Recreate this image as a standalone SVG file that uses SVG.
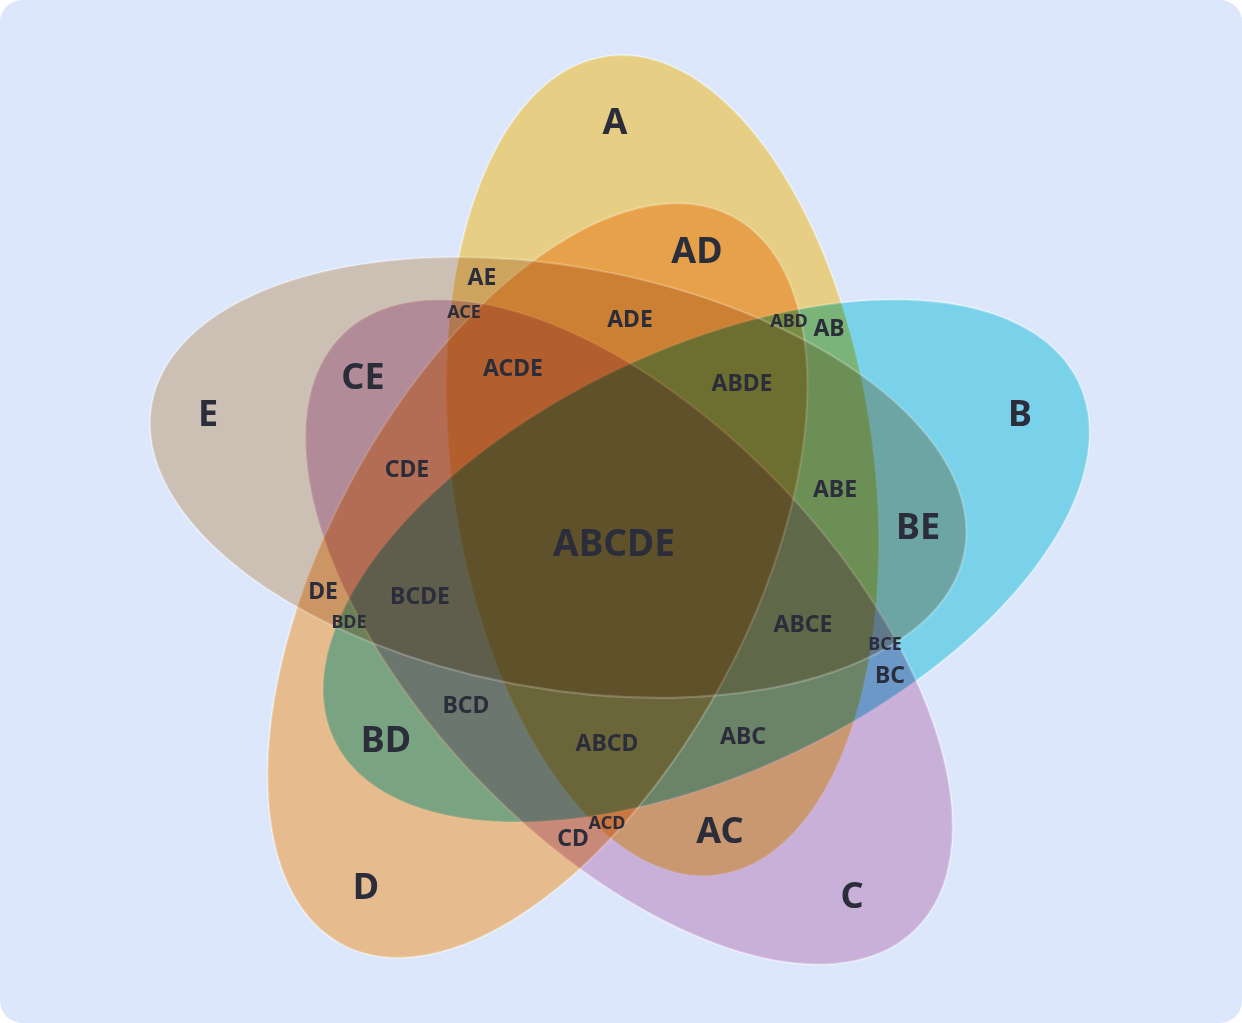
<svg xmlns="http://www.w3.org/2000/svg" width="1242" height="1023" viewBox="0 0 1242 1023">
<defs>
<style>
.under{fill:#e6f1ff;stroke:#e8f2ff;stroke-width:2}
.fill{mix-blend-mode:multiply;stroke:none}
.rim{fill:none;stroke:#ffffff;stroke-opacity:0.22;stroke-width:2.2}
text{font-family:"Noto Sans","Liberation Sans",sans-serif;font-weight:700;fill:#2b2d3a;text-anchor:middle}
.big{font-size:36px}
.all{font-size:37px}
.mid{font-size:23px}
.sm{font-size:18px}
</style>
<ellipse id="shape" cx="662.5" cy="465.5" rx="413" ry="211" transform="rotate(82.3 662.5 465.5)"/>
</defs>
<rect x="0" y="0" width="1242" height="1023" fill="#ffffff"/>
<rect x="0" y="0" width="1242" height="1023" rx="22" ry="22" fill="#dce7fc"/>
<g id="underlay">
<use href="#shape" class="under"/>
<use href="#shape" class="under" transform="rotate(72 618.7 543.3)"/>
<use href="#shape" class="under" transform="rotate(144 618.7 543.3)"/>
<use href="#shape" class="under" transform="rotate(216 618.7 543.3)"/>
<use href="#shape" class="under" transform="rotate(288 618.7 543.3)"/>
</g>
<g id="sets">
<g id="set-A">
<use href="#shape" class="fill" fill="#ffdb84"/>
<use href="#shape" class="rim"/>
<text class="big" x="615" y="134">A</text>
</g>
<g id="set-B">
<use href="#shape" class="fill" fill="#87deea" transform="rotate(72 618.7 543.3)"/>
<use href="#shape" class="rim" transform="rotate(72 618.7 543.3)"/>
<text class="big" x="1020" y="426">B</text>
</g>
<g id="set-C">
<use href="#shape" class="fill" fill="#dfbad8" transform="rotate(144 618.7 543.3)"/>
<use href="#shape" class="rim" transform="rotate(144 618.7 543.3)"/>
<text class="big" x="852" y="908">C</text>
</g>
<g id="set-D">
<use href="#shape" class="fill" fill="#ffc78e" transform="rotate(216 618.7 543.3)"/>
<use href="#shape" class="rim" transform="rotate(216 618.7 543.3)"/>
<text class="big" x="366" y="899">D</text>
</g>
<g id="set-E">
<use href="#shape" class="fill" fill="#e2cab3" transform="rotate(288 618.7 543.3)"/>
<use href="#shape" class="rim" transform="rotate(288 618.7 543.3)"/>
<text class="big" x="208" y="426">E</text>
</g>
</g>
<g id="region-labels">
<text class="big" x="697" y="263">AD</text>
<text class="big" x="363" y="389">CE</text>
<text class="big" x="918" y="539">BE</text>
<text class="big" x="386" y="752">BD</text>
<text class="big" x="720" y="843">AC</text>
<text class="all" x="614" y="556">ABCDE</text>
<text class="mid" x="482" y="285">AE</text>
<text class="mid" x="630" y="327">ADE</text>
<text class="mid" x="829" y="336">AB</text>
<text class="mid" x="513" y="376">ACDE</text>
<text class="mid" x="742" y="391">ABDE</text>
<text class="mid" x="407" y="477">CDE</text>
<text class="mid" x="835" y="497">ABE</text>
<text class="mid" x="323" y="599">DE</text>
<text class="mid" x="420" y="604">BCDE</text>
<text class="mid" x="803" y="632">ABCE</text>
<text class="mid" x="890" y="683">BC</text>
<text class="mid" x="466" y="713">BCD</text>
<text class="mid" x="743" y="744">ABC</text>
<text class="mid" x="607" y="751">ABCD</text>
<text class="mid" x="573" y="846">CD</text>
<text class="sm" x="464" y="318">ACE</text>
<text class="sm" x="789" y="327">ABD</text>
<text class="sm" x="349" y="628">BDE</text>
<text class="sm" x="885" y="650">BCE</text>
<text class="sm" x="607" y="829">ACD</text>
</g>
</svg>
